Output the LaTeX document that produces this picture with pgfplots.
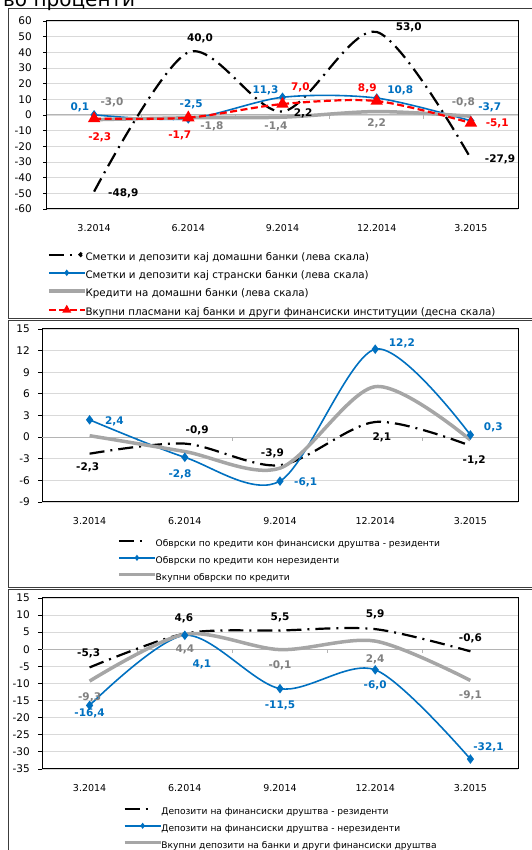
\documentclass[border=0pt]{standalone}
\usepackage{fontspec}
\setmainfont{DejaVu Sans}
\usepackage{pgfplots}
\pgfplotsset{compat=1.18}
\definecolor{cblue}{RGB}{0,112,192}
\definecolor{cgray}{RGB}{166,166,166}
\definecolor{lgray}{RGB}{128,128,128}
\definecolor{cred}{RGB}{255,0,0}
\definecolor{gridc}{RGB}{217,217,217}
\definecolor{zeroc}{RGB}{180,180,180}
\definecolor{framec}{RGB}{60,60,60}
\tikzset{lab/.style={font=\fontsize{10.5}{12}\selectfont\bfseries, inner sep=0pt}}
\pgfplotsset{
  panel/.style={
    scale only axis, clip=false,
    xmin=-0.5, xmax=4.5,
    xtick={0,1,2,3,4},
    xticklabels={3.2014,6.2014,9.2014,12.2014,3.2015},
    xtick style={draw=none},
    x tick label style={font=\fontsize{9.5}{11}\selectfont, inner sep=0pt, yshift=-11pt},
    y tick label style={font=\fontsize{10.5}{12}\selectfont, inner sep=0pt},
    /pgf/number format/assume math mode=true,
    tick align=outside, tick pos=left, major tick length=4pt,
    ytick style={black, line width=0.8pt},
    ymajorgrids, grid style={gridc, line width=0.8pt},
    axis line style={black, line width=1pt},
    legend cell align=left,
    legend style={draw=none, fill=none, inner sep=0pt, outer sep=0pt, anchor=north west,
      nodes={inner sep=0pt, text height=7pt, text depth=2pt},
      /tikz/every odd column/.append style={column sep=-1pt}},
  },
  blackdd/.style={black, line width=2.2pt, dash pattern=on 15pt off 6pt on 2pt off 6pt, smooth},
  blueline/.style={cblue, line width=1.6pt, smooth, mark=diamond*, mark size=3.5pt, mark options={solid}},
  grayline/.style={cgray, line width=3.5pt, smooth},
  redline/.style={cred, line width=2.2pt, dash pattern=on 7pt off 3.5pt, smooth, mark=triangle*, mark size=5pt, mark options={solid}},
  legmark/.style={legend image code/.code={\draw[mark repeat=2,mark phase=2,##1] plot coordinates {(0pt,3pt) (18pt,3pt) (36pt,3pt)};}},
  legline/.style={legend image code/.code={\draw[##1] (0pt,3pt) -- (36pt,3pt);}},
  legdd/.style={legend image code/.code={\draw[black, line width=2.2pt] (0pt,3pt) -- (23pt,3pt); \fill[black] (32pt,3pt) circle (1.1pt); \path (36pt,3pt);}},
  legdash/.style={legend image code/.code={\draw[black, line width=2.2pt] (0pt,3pt) -- (25pt,3pt); \path (36pt,3pt);}},
}
\newcommand{\zeroline}{%
  \draw[zeroc, line width=1pt] (axis cs:-0.5,0) -- (axis cs:4.5,0);
  \draw[zeroc, line width=0.8pt] (axis cs:0.5,0) -- ++(0pt,-4pt);
  \draw[zeroc, line width=0.8pt] (axis cs:1.5,0) -- ++(0pt,-4pt);
  \draw[zeroc, line width=0.8pt] (axis cs:2.5,0) -- ++(0pt,-4pt);
  \draw[zeroc, line width=0.8pt] (axis cs:3.5,0) -- ++(0pt,-4pt);
}
\begin{document}
\begin{tikzpicture}[x=1pt,y=1pt]
\path[use as bounding box] (0,0) rectangle (531,850);
\draw[framec, line width=1pt] (8.5,841) rectangle (545,531);
\draw[framec, line width=1pt] (8.5,529.5) rectangle (545,262);
\draw[framec, line width=1pt] (8.5,260.5) rectangle (545,-10);
\node[anchor=base west, font=\fontsize{20}{21}\selectfont, inner sep=0pt] at (3,843) {во проценти};

% ---------- Panel 1 ----------
\begin{axis}[panel, at={(47pt,641pt)}, anchor=south west, width=471pt, height=188pt,
  ymin=-60, ymax=60, ytick={-60,-50,...,60},
  y tick label style={xshift=-11pt},
  legend style={at={(0.0,-0.231)}, row sep=8.7pt, font=\fontsize{10.3}{12}\selectfont}]
\zeroline
\addplot[blackdd, legdd]
  coordinates {(0,-48.9) (1,40.0) (2,2.2) (3,53.0) (4,-27.9)};
\addlegendentry{Сметки и депозити кај домашни банки (лева скала)}
\addplot[blueline, legmark, legend image post style={mark size=2pt}]
  coordinates {(0,0.1) (1,-2.5) (2,11.3) (3,10.8) (4,-3.7)};
\addlegendentry{Сметки и депозити кај странски банки (лева скала)}
\addplot[grayline, legline]
  coordinates {(0,-3.0) (1,-1.8) (2,-1.4) (3,2.2) (4,-0.8)};
\addlegendentry{Кредити на домашни банки (лева скала)}
\addplot[redline, legmark, legend image post style={mark size=3pt}]
  coordinates {(0,-2.3) (1,-1.7) (2,7.0) (3,8.9) (4,-5.1)};
\addlegendentry{Вкупни пласмани кај банки и други финансиски институции (десна скала)}
% labels
\node[lab, text=cblue] at (axis cs:-0.15,5.1) {0,1};
\node[lab, text=lgray] at (axis cs:0.19,8.3) {-3,0};
\node[lab, text=cred] at (axis cs:0.06,-14.0) {-2,3};
\node[lab, text=black] at (axis cs:0.31,-49.8) {-48,9};
\node[lab, text=black] at (axis cs:1.125,49.1) {40,0};
\node[lab, text=cblue] at (axis cs:1.03,7.0) {-2,5};
\node[lab, text=cred] at (axis cs:0.91,-12.8) {-1,7};
\node[lab, text=lgray] at (axis cs:1.25,-7.0) {-1,8};
\node[lab, text=cblue] at (axis cs:1.82,16.0) {11,3};
\node[lab, text=cred] at (axis cs:2.19,17.9) {7,0};
\node[lab, text=black] at (axis cs:2.22,1.3) {2,2};
\node[lab, text=lgray] at (axis cs:1.93,-7.0) {-1,4};
\node[lab, text=cred] at (axis cs:2.90,17.2) {8,9};
\node[lab, text=cblue] at (axis cs:3.25,16.0) {10,8};
\node[lab, text=black] at (axis cs:3.34,56.2) {53,0};
\node[lab, text=lgray] at (axis cs:3.0,-5.1) {2,2};
\node[lab, text=lgray] at (axis cs:3.92,8.3) {-0,8};
\node[lab, text=cblue] at (axis cs:4.20,5.1) {-3,7};
\node[lab, text=cred] at (axis cs:4.28,-5.1) {-5,1};
\node[lab, text=black] at (axis cs:4.31,-28.1) {-27,9};
\end{axis}

% ---------- Panel 2 ----------
\begin{axis}[panel, at={(42pt,348pt)}, anchor=south west, width=476pt, height=173pt,
  ymin=-9, ymax=15, ytick={-9,-6,...,15},
  y tick label style={xshift=-8pt},
  legend style={at={(0.158,-0.217)}, row sep=7.5pt, font=\fontsize{9.1}{11}\selectfont}]
\zeroline
\addplot[blackdd, legdash]
  coordinates {(0,-2.3) (1,-0.9) (2,-3.9) (3,2.1) (4,-1.2)};
\addlegendentry{Обврски по кредити кон финансиски друштва - резиденти}
\addplot[blueline, legmark, legend image post style={mark size=1.8pt}]
  coordinates {(0,2.4) (1,-2.8) (2,-6.1) (3,12.2) (4,0.3)};
\addlegendentry{Обврски по кредити кон нерезиденти}
\addplot[grayline, legline]
  coordinates {(0,0.2) (1,-2.0) (2,-4.3) (3,7.0) (4,-0.4)};
\addlegendentry{Вкупни обврски по кредити}
\node[lab, text=cblue] at (axis cs:0.26,2.2) {2,4};
\node[lab, text=black] at (axis cs:-0.02,-4.2) {-2,3};
\node[lab, text=black] at (axis cs:1.13,1.0) {-0,9};
\node[lab, text=cblue] at (axis cs:0.95,-5.1) {-2,8};
\node[lab, text=black] at (axis cs:1.92,-2.2) {-3,9};
\node[lab, text=cblue] at (axis cs:2.27,-6.25) {-6,1};
\node[lab, text=cblue] at (axis cs:3.28,13.0) {12,2};
\node[lab, text=black] at (axis cs:3.07,0.0) {2,1};
\node[lab, text=cblue] at (axis cs:4.24,1.4) {0,3};
\node[lab, text=black] at (axis cs:4.04,-3.2) {-1,2};
\end{axis}

% ---------- Panel 3 ----------
\begin{axis}[panel, at={(42pt,81pt)}, anchor=south west, width=476pt, height=171pt,
  ymin=-35, ymax=15, ytick={-35,-30,...,15},
  y tick label style={xshift=-8pt},
  legend style={at={(0.170,-0.225)}, row sep=7.5pt, font=\fontsize{9.1}{11}\selectfont}]
\zeroline
\addplot[blackdd, legdash]
  coordinates {(0,-5.3) (1,4.6) (2,5.5) (3,5.9) (4,-0.6)};
\addlegendentry{Депозити на финансиски друштва - резиденти}
\addplot[blueline, legmark, legend image post style={mark size=1.8pt}]
  coordinates {(0,-16.4) (1,4.1) (2,-11.5) (3,-6.0) (4,-32.1)};
\addlegendentry{Депозити на финансиски друштва - нерезиденти}
\addplot[grayline, legline]
  coordinates {(0,-9.3) (1,4.4) (2,-0.1) (3,2.4) (4,-9.1)};
\addlegendentry{Вкупни депозити на банки и други финансиски друштва}
\node[lab, text=black] at (axis cs:-0.01,-1.2) {-5,3};
\node[lab, text=black] at (axis cs:0.99,9.0) {4,6};
\node[lab, text=black] at (axis cs:2.0,9.4) {5,5};
\node[lab, text=black] at (axis cs:3.0,10.2) {5,9};
\node[lab, text=black] at (axis cs:4.0,3.2) {-0,6};
\node[lab, text=lgray] at (axis cs:1.0,0.0) {4,4};
\node[lab, text=cblue] at (axis cs:1.18,-4.4) {4,1};
\node[lab, text=lgray] at (axis cs:2.0,-4.7) {-0,1};
\node[lab, text=lgray] at (axis cs:3.0,-2.9) {2,4};
\node[lab, text=lgray] at (axis cs:0.0,-14.0) {-9,3};
\node[lab, text=cblue] at (axis cs:0.0,-18.7) {-16,4};
\node[lab, text=cblue] at (axis cs:2.0,-16.4) {-11,5};
\node[lab, text=cblue] at (axis cs:3.0,-10.5) {-6,0};
\node[lab, text=lgray] at (axis cs:4.0,-13.5) {-9,1};
\node[lab, text=cblue] at (axis cs:4.19,-28.7) {-32,1};
\end{axis}
\end{tikzpicture}
\end{document}
